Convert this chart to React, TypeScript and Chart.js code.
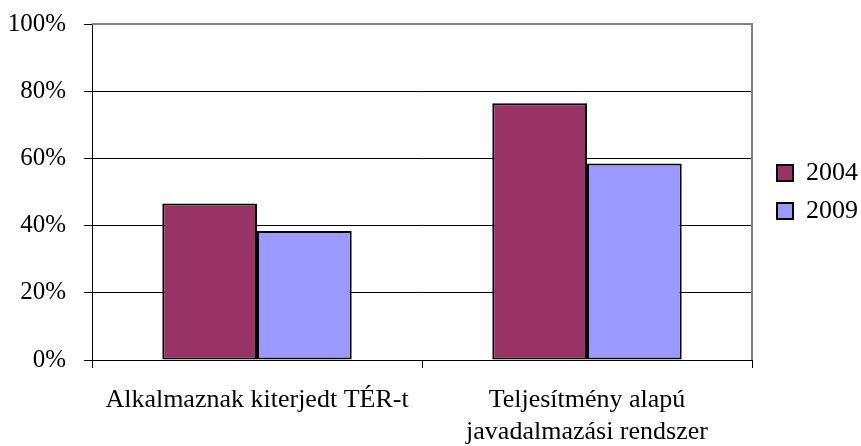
import React, { useEffect, useRef } from "react";
import { Chart, registerables } from "chart.js";

Chart.register(...registerables);

const categories: (string | string[])[] = [
  "Alkalmaznak kiterjedt TÉR-t",
  ["Teljesítmény alapú", "javadalmazási rendszer"],
];
const seriesNames = ["2004", "2009"];
const values2004 = [46.6, 76.4];
const values2009 = [38.4, 58.5];
const yTicks = [0, 20, 40, 60, 80, 100];

const FONT = "'Liberation Serif', 'Times New Roman', serif";
const LEGEND_SHIFT = 13;

const plotBorder = {
  id: "plotBorder",
  afterLayout(chart: any) {
    if (chart.legend) {
      chart.legend.left += LEGEND_SHIFT;
      chart.legend.right += LEGEND_SHIFT;
    }
  },
  afterDatasetsDraw(chart: any) {
    const { ctx, chartArea } = chart;
    ctx.save();
    ctx.strokeStyle = "#808080";
    ctx.lineWidth = 2;
    ctx.beginPath();
    ctx.moveTo(chartArea.left, chartArea.top);
    ctx.lineTo(chartArea.right, chartArea.top);
    ctx.lineTo(chartArea.right, chartArea.bottom);
    ctx.stroke();
    ctx.restore();
  },
};

export default function App() {
  const ref = useRef<HTMLCanvasElement>(null);
  useEffect(() => {
    const canvas = ref.current;
    if (!canvas) return;
    const chart = new Chart(canvas, {
      type: "bar",
      data: {
        labels: categories,
        datasets: [
          {
            label: seriesNames[0],
            data: values2004,
            backgroundColor: "#993366",
            borderColor: "#000000",
            borderWidth: 2,
            borderSkipped: false,
          },
          {
            label: seriesNames[1],
            data: values2009,
            backgroundColor: "#9999FF",
            borderColor: "#000000",
            borderWidth: 2,
            borderSkipped: false,
          },
        ],
      },
      options: {
        responsive: false,
        animation: false,
        devicePixelRatio: 1,
        datasets: {
          bar: { categoryPercentage: 0.574, barPercentage: 1 },
        },
        layout: { padding: { left: 8, top: 24, right: 6, bottom: 0 } },
        font: { family: FONT, size: 26 },
        scales: {
          x: {
            afterFit: (s: any) => {
              s.paddingLeft = 0;
              s.paddingRight = 0;
              s.height = 86;
            },
            grid: {
              offset: true,
              drawOnChartArea: false,
              drawTicks: true,
              tickLength: 8,
              color: "#000",
            },
            border: { color: "#000", width: 1 },
            ticks: {
              color: "#000",
              font: { family: FONT, size: 26 },
              padding: 17,
              maxRotation: 0,
              autoSkip: false,
            },
          },
          y: {
            min: 0,
            max: 100,
            afterBuildTicks: (axis: any) => {
              axis.ticks = yTicks.map((v) => ({ value: v }));
            },
            afterFit: (s: any) => {
              s.paddingTop = 0;
              s.paddingBottom = 0;
              s.width = 84;
            },
            grid: {
              color: (c: any) => (c.tick && c.tick.value === 100 ? "#808080" : "#000"),
              tickLength: 8,
              tickColor: "#000",
            },
            border: { color: "#000", width: 1 },
            ticks: {
              color: "#000",
              font: { family: FONT, size: 25 },
              padding: 18,
              callback: (v: any) => `${v}%`,
            },
          },
        },
        plugins: {
          legend: {
            position: "right",
            align: "center",
            fullSize: false,
            labels: {
              color: "#000",
              font: { family: FONT, size: 26 },
              boxWidth: 16,
              boxHeight: 16,
              padding: 12,
            },
          },
          tooltip: { enabled: false },
        },
      },
      plugins: [plotBorder],
    });
    return () => chart.destroy();
  }, []);
  return (
    <div style={{ position: "fixed", left: 0, top: 0, width: 861, height: 446, background: "#fff" }}>
      <canvas ref={ref} width={861} height={446} style={{ display: "block" }} />
    </div>
  );
}
